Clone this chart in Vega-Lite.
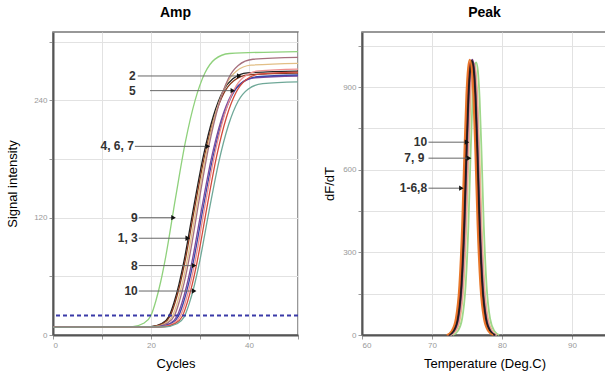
{
  "$schema": "https://vega.github.io/schema/vega-lite/v6.json",
  "padding": {"left": 5, "top": 5, "right": 0, "bottom": 5},
  "background": "white",
  "spacing": 20,
  "resolve": {"scale": {"color": "independent"}},
  "config": {
    "font": "Liberation Sans",
    "view": {"stroke": "#777", "strokeWidth": 1.5},
    "title": {"fontSize": 14, "fontWeight": "bold", "color": "#000", "offset": 12},
    "axis": {
      "gridColor": "#e2e2e2", "gridWidth": 1,
      "domainColor": "#555", "domainWidth": 2,
      "tickColor": "#999", "tickSize": 4,
      "labelColor": "#999", "labelFontSize": 8, "labelPadding": 2,
      "titleFontSize": 13, "titleFontWeight": "normal", "titleColor": "#000"
    }
  },
  "datasets": {
    "amp": [
      {"c":"c01","x":0,"y":8},{"c":"c01","x":16,"y":8.3},{"c":"c01","x":18.5,"y":12},{"c":"c01","x":20,"y":20},{"c":"c01","x":21,"y":35},{"c":"c01","x":22,"y":55},{"c":"c01","x":23,"y":80},{"c":"c01","x":25,"y":140},{"c":"c01","x":27,"y":197},{"c":"c01","x":29,"y":240},{"c":"c01","x":31,"y":268},{"c":"c01","x":33,"y":282},{"c":"c01","x":36,"y":288},{"c":"c01","x":50,"y":290},
      {"c":"c02","x":0,"y":8},{"c":"c02","x":19.7,"y":8.3},{"c":"c02","x":22.2,"y":11.7},{"c":"c02","x":23.7,"y":19.3},{"c":"c02","x":24.7,"y":33.2},{"c":"c02","x":25.7,"y":51.8},{"c":"c02","x":26.7,"y":74.8},{"c":"c02","x":28.7,"y":130.6},{"c":"c02","x":30.7,"y":183.5},{"c":"c02","x":32.7,"y":223.6},{"c":"c02","x":34.7,"y":249.6},{"c":"c02","x":36.7,"y":262.1},{"c":"c02","x":39.7,"y":268.2},{"c":"c02","x":50,"y":270},
      {"c":"c03","x":0,"y":8},{"c":"c03","x":19.9,"y":8.3},{"c":"c03","x":22.4,"y":11.6},{"c":"c03","x":23.9,"y":19.2},{"c":"c03","x":24.9,"y":33},{"c":"c03","x":25.9,"y":51.4},{"c":"c03","x":26.9,"y":74.3},{"c":"c03","x":28.9,"y":129.7},{"c":"c03","x":30.9,"y":182.2},{"c":"c03","x":32.9,"y":222},{"c":"c03","x":34.9,"y":247.7},{"c":"c03","x":36.9,"y":260.2},{"c":"c03","x":39.9,"y":266.2},{"c":"c03","x":50,"y":268},
      {"c":"c04","x":0,"y":8},{"c":"c04","x":20.4,"y":8.3},{"c":"c04","x":22.9,"y":11.8},{"c":"c04","x":24.4,"y":19.6},{"c":"c04","x":25.4,"y":33.9},{"c":"c04","x":26.4,"y":53.1},{"c":"c04","x":27.4,"y":76.9},{"c":"c04","x":29.4,"y":134.4},{"c":"c04","x":31.4,"y":188.9},{"c":"c04","x":33.4,"y":230.2},{"c":"c04","x":35.4,"y":256.9},{"c":"c04","x":37.4,"y":269.9},{"c":"c04","x":40.4,"y":276.1},{"c":"c04","x":50,"y":278},
      {"c":"c05","x":0,"y":8},{"c":"c05","x":20.8,"y":8.3},{"c":"c05","x":23.3,"y":11.9},{"c":"c05","x":24.8,"y":19.9},{"c":"c05","x":25.8,"y":34.5},{"c":"c05","x":26.8,"y":54.1},{"c":"c05","x":27.8,"y":78.4},{"c":"c05","x":29.8,"y":137.2},{"c":"c05","x":31.8,"y":192.9},{"c":"c05","x":33.8,"y":235.1},{"c":"c05","x":35.8,"y":262.5},{"c":"c05","x":37.8,"y":275.7},{"c":"c05","x":40.8,"y":282.1},{"c":"c05","x":50,"y":284},
      {"c":"c06","x":0,"y":8},{"c":"c06","x":21.3,"y":8.3},{"c":"c06","x":23.8,"y":11.6},{"c":"c06","x":25.3,"y":19.1},{"c":"c06","x":26.3,"y":32.7},{"c":"c06","x":27.3,"y":50.9},{"c":"c06","x":28.3,"y":73.5},{"c":"c06","x":30.3,"y":128.3},{"c":"c06","x":32.3,"y":180.2},{"c":"c06","x":34.3,"y":219.5},{"c":"c06","x":36.3,"y":245},{"c":"c06","x":38.3,"y":257.3},{"c":"c06","x":41.3,"y":263.2},{"c":"c06","x":50,"y":265},
      {"c":"c07","x":0,"y":8},{"c":"c07","x":21.6,"y":8.3},{"c":"c07","x":24.1,"y":11.6},{"c":"c07","x":25.6,"y":19.1},{"c":"c07","x":26.6,"y":32.8},{"c":"c07","x":27.6,"y":51.1},{"c":"c07","x":28.6,"y":73.8},{"c":"c07","x":30.6,"y":128.7},{"c":"c07","x":32.6,"y":180.9},{"c":"c07","x":34.6,"y":220.3},{"c":"c07","x":36.6,"y":245.9},{"c":"c07","x":38.6,"y":258.3},{"c":"c07","x":41.6,"y":264.2},{"c":"c07","x":50,"y":266},
      {"c":"c08","x":0,"y":8},{"c":"c08","x":22,"y":8.3},{"c":"c08","x":24.5,"y":11.7},{"c":"c08","x":26,"y":19.4},{"c":"c08","x":27,"y":33.3},{"c":"c08","x":28,"y":52.1},{"c":"c08","x":29,"y":75.3},{"c":"c08","x":31,"y":131.6},{"c":"c08","x":33,"y":184.9},{"c":"c08","x":35,"y":225.3},{"c":"c08","x":37,"y":251.4},{"c":"c08","x":39,"y":264.1},{"c":"c08","x":42,"y":270.2},{"c":"c08","x":50,"y":272},
      {"c":"c09","x":0,"y":8},{"c":"c09","x":22.4,"y":8.3},{"c":"c09","x":24.9,"y":11.7},{"c":"c09","x":26.4,"y":19.2},{"c":"c09","x":27.4,"y":33.1},{"c":"c09","x":28.4,"y":51.6},{"c":"c09","x":29.4,"y":74.6},{"c":"c09","x":31.4,"y":130.1},{"c":"c09","x":33.4,"y":182.9},{"c":"c09","x":35.4,"y":222.8},{"c":"c09","x":37.4,"y":248.6},{"c":"c09","x":39.4,"y":261.2},{"c":"c09","x":42.4,"y":267.2},{"c":"c09","x":50,"y":269},
      {"c":"c10","x":0,"y":8},{"c":"c10","x":22.8,"y":8.3},{"c":"c10","x":25.3,"y":11.5},{"c":"c10","x":26.8,"y":18.8},{"c":"c10","x":27.8,"y":32.1},{"c":"c10","x":28.8,"y":49.9},{"c":"c10","x":29.8,"y":72},{"c":"c10","x":31.8,"y":125.5},{"c":"c10","x":33.8,"y":176.2},{"c":"c10","x":35.8,"y":214.6},{"c":"c10","x":37.8,"y":239.4},{"c":"c10","x":39.8,"y":251.5},{"c":"c10","x":42.8,"y":257.2},{"c":"c10","x":50,"y":259}
    ],
    "ampAnno": [
      {"label":"2","xt":16.9,"x0":17.3,"x1":38.0,"y":265},
      {"label":"5","xt":16.9,"x0":19.8,"x1":36.7,"y":250},
      {"label":"4, 6, 7","xt":16.5,"x0":16.7,"x1":31.6,"y":193},
      {"label":"9","xt":17.3,"x0":17.5,"x1":24.6,"y":120},
      {"label":"1, 3","xt":17.3,"x0":17.5,"x1":27.5,"y":99},
      {"label":"8","xt":17.3,"x0":17.5,"x1":28.8,"y":71},
      {"label":"10","xt":17.3,"x0":17.5,"x1":28.8,"y":45}
    ],
    "peak": [
      {"c":"p1","x":73.0,"y":0},{"c":"p1","x":73.7,"y":15},{"c":"p1","x":74.3,"y":59},{"c":"p1","x":74.8,"y":178},{"c":"p1","x":75.2,"y":396},{"c":"p1","x":75.5,"y":644},{"c":"p1","x":75.8,"y":861},{"c":"p1","x":76.05,"y":960},{"c":"p1","x":76.3,"y":990},{"c":"p1","x":76.55,"y":960},{"c":"p1","x":76.8,"y":861},{"c":"p1","x":77.1,"y":644},{"c":"p1","x":77.4,"y":396},{"c":"p1","x":77.8,"y":178},{"c":"p1","x":78.3,"y":59},{"c":"p1","x":78.9,"y":15},{"c":"p1","x":79.6,"y":0},
      {"c":"p2","x":72.7,"y":0},{"c":"p2","x":73.4,"y":15},{"c":"p2","x":74.0,"y":59},{"c":"p2","x":74.5,"y":177},{"c":"p2","x":74.9,"y":394},{"c":"p2","x":75.2,"y":640},{"c":"p2","x":75.5,"y":857},{"c":"p2","x":75.75,"y":955},{"c":"p2","x":76.0,"y":985},{"c":"p2","x":76.25,"y":955},{"c":"p2","x":76.5,"y":857},{"c":"p2","x":76.8,"y":640},{"c":"p2","x":77.1,"y":394},{"c":"p2","x":77.5,"y":177},{"c":"p2","x":78.0,"y":59},{"c":"p2","x":78.6,"y":15},{"c":"p2","x":79.3,"y":0},
      {"c":"p3","x":72.6,"y":0},{"c":"p3","x":73.3,"y":15},{"c":"p3","x":73.9,"y":59},{"c":"p3","x":74.4,"y":178},{"c":"p3","x":74.8,"y":396},{"c":"p3","x":75.1,"y":644},{"c":"p3","x":75.4,"y":861},{"c":"p3","x":75.65,"y":960},{"c":"p3","x":75.9,"y":990},{"c":"p3","x":76.15,"y":960},{"c":"p3","x":76.4,"y":861},{"c":"p3","x":76.7,"y":644},{"c":"p3","x":77.0,"y":396},{"c":"p3","x":77.4,"y":178},{"c":"p3","x":77.9,"y":59},{"c":"p3","x":78.5,"y":15},{"c":"p3","x":79.2,"y":0},
      {"c":"p4","x":72.45,"y":0},{"c":"p4","x":73.15,"y":15},{"c":"p4","x":73.75,"y":60},{"c":"p4","x":74.25,"y":180},{"c":"p4","x":74.65,"y":400},{"c":"p4","x":74.95,"y":650},{"c":"p4","x":75.25,"y":870},{"c":"p4","x":75.5,"y":970},{"c":"p4","x":75.75,"y":1000},{"c":"p4","x":76.0,"y":970},{"c":"p4","x":76.25,"y":870},{"c":"p4","x":76.55,"y":650},{"c":"p4","x":76.85,"y":400},{"c":"p4","x":77.25,"y":180},{"c":"p4","x":77.75,"y":60},{"c":"p4","x":78.35,"y":15},{"c":"p4","x":79.05,"y":0},
      {"c":"p5","x":72.25,"y":0},{"c":"p5","x":72.95,"y":15},{"c":"p5","x":73.55,"y":60},{"c":"p5","x":74.05,"y":179},{"c":"p5","x":74.45,"y":398},{"c":"p5","x":74.75,"y":647},{"c":"p5","x":75.05,"y":866},{"c":"p5","x":75.3,"y":965},{"c":"p5","x":75.55,"y":995},{"c":"p5","x":75.8,"y":965},{"c":"p5","x":76.05,"y":866},{"c":"p5","x":76.35,"y":647},{"c":"p5","x":76.65,"y":398},{"c":"p5","x":77.05,"y":179},{"c":"p5","x":77.55,"y":60},{"c":"p5","x":78.15,"y":15},{"c":"p5","x":78.85,"y":0},
      {"c":"p6","x":72.4,"y":0},{"c":"p6","x":73.1,"y":15},{"c":"p6","x":73.7,"y":60},{"c":"p6","x":74.2,"y":179},{"c":"p6","x":74.6,"y":398},{"c":"p6","x":74.9,"y":647},{"c":"p6","x":75.2,"y":866},{"c":"p6","x":75.45,"y":965},{"c":"p6","x":75.7,"y":995},{"c":"p6","x":75.95,"y":965},{"c":"p6","x":76.2,"y":866},{"c":"p6","x":76.5,"y":647},{"c":"p6","x":76.8,"y":398},{"c":"p6","x":77.2,"y":179},{"c":"p6","x":77.7,"y":60},{"c":"p6","x":78.3,"y":15},{"c":"p6","x":79.0,"y":0},
      {"c":"p7","x":72.1,"y":0},{"c":"p7","x":72.8,"y":15},{"c":"p7","x":73.4,"y":60},{"c":"p7","x":73.9,"y":180},{"c":"p7","x":74.3,"y":400},{"c":"p7","x":74.6,"y":650},{"c":"p7","x":74.9,"y":870},{"c":"p7","x":75.15,"y":970},{"c":"p7","x":75.4,"y":1000},{"c":"p7","x":75.65,"y":970},{"c":"p7","x":75.9,"y":870},{"c":"p7","x":76.2,"y":650},{"c":"p7","x":76.5,"y":400},{"c":"p7","x":76.9,"y":180},{"c":"p7","x":77.4,"y":60},{"c":"p7","x":78.0,"y":15},{"c":"p7","x":78.7,"y":0}
    ],
    "peakAnno": [
      {"label":"10","xt":69.3,"x0":69.5,"x1":75.0,"y":700},
      {"label":"7, 9","xt":68.9,"x0":69.5,"x1":75.3,"y":642},
      {"label":"1-6,8","xt":69.3,"x0":69.5,"x1":74.2,"y":533}
    ]
  },
  "hconcat": [
    {
      "title": "Amp",
      "width": 245,
      "height": 303,
      "layer": [
        {
          "data": {"name": "amp"},
          "mark": {"type": "line", "interpolate": "monotone", "strokeWidth": 1.3},
          "encoding": {
            "x": {"field": "x", "type": "quantitative", "scale": {"domain": [0, 50], "nice": false},
              "axis": {"title": "Cycles", "values": [0,10,20,30,40,50], "labelExpr": "datum.value % 20 === 0 ? datum.label : ''", "titlePadding": 8}},
            "y": {"field": "y", "type": "quantitative", "scale": {"domain": [0, 310], "nice": false},
              "axis": {"title": "Signal intensity", "values": [0,60,120,180,240,300], "labelExpr": "datum.value % 120 === 0 ? datum.label : ''", "titlePadding": 14}},
            "color": {"field": "c", "type": "nominal", "legend": null,
              "scale": {"domain": ["c01","c02","c03","c04","c05","c06","c07","c08","c09","c10"],
                "range": ["#8fd17c","#222222","#8b3a1e","#e2bf86","#a6707e","#7d4a9c","#3c46a8","#ee9090","#d24a3c","#6fa898"]}}
          }
        },
        {
          "data": {"values": [{"t": 20}]},
          "mark": {"type": "rule", "color": "#3a3aa8", "strokeDash": [4, 3], "strokeWidth": 2},
          "encoding": {"y": {"field": "t", "type": "quantitative"}}
        },
        {
          "data": {"name": "ampAnno"},
          "mark": {"type": "rule", "color": "#666", "strokeWidth": 1},
          "encoding": {
            "x": {"field": "x0", "type": "quantitative"},
            "x2": {"field": "x1"},
            "y": {"field": "y", "type": "quantitative"}
          }
        },
        {
          "data": {"name": "ampAnno"},
          "mark": {"type": "point", "shape": "triangle-right", "filled": true, "color": "#111", "size": 28, "opacity": 1},
          "encoding": {
            "x": {"field": "x1", "type": "quantitative"},
            "y": {"field": "y", "type": "quantitative"}
          }
        },
        {
          "data": {"name": "ampAnno"},
          "mark": {"type": "text", "align": "right", "baseline": "middle", "fontSize": 12, "fontWeight": "bold", "color": "#333"},
          "encoding": {
            "x": {"field": "xt", "type": "quantitative"},
            "y": {"field": "y", "type": "quantitative"},
            "text": {"field": "label"}
          }
        }
      ]
    },
    {
      "title": "Peak",
      "width": 245,
      "height": 303,
      "layer": [
        {
          "data": {"name": "peak"},
          "mark": {"type": "line", "interpolate": "monotone", "strokeWidth": 1.8},
          "encoding": {
            "x": {"field": "x", "type": "quantitative", "scale": {"domain": [60, 95], "nice": false},
              "axis": {"title": "Temperature (Deg.C)", "values": [60,65,70,75,80,85,90,95], "labelExpr": "datum.value % 10 === 0 ? datum.label : ''", "titlePadding": 8}},
            "y": {"field": "y", "type": "quantitative", "scale": {"domain": [0, 1100], "nice": false},
              "axis": {"title": "dF/dT", "values": [0,150,300,450,600,750,900,1050], "labelExpr": "datum.value % 300 === 0 ? datum.label : ''", "titlePadding": 6}},
            "color": {"field": "c", "type": "nominal", "legend": null,
              "scale": {"domain": ["p1","p2","p3","p4","p5","p6","p7"],
                "range": ["#9fd88a","#e8c28a","#e89a9a","#6b3a78","#d23c2c","#1e1e1e","#e8782a"]}}
          }
        },
        {
          "data": {"name": "peakAnno"},
          "mark": {"type": "rule", "color": "#666", "strokeWidth": 1},
          "encoding": {
            "x": {"field": "x0", "type": "quantitative"},
            "x2": {"field": "x1"},
            "y": {"field": "y", "type": "quantitative"}
          }
        },
        {
          "data": {"name": "peakAnno"},
          "mark": {"type": "point", "shape": "triangle-right", "filled": true, "color": "#111", "size": 28, "opacity": 1},
          "encoding": {
            "x": {"field": "x1", "type": "quantitative"},
            "y": {"field": "y", "type": "quantitative"}
          }
        },
        {
          "data": {"name": "peakAnno"},
          "mark": {"type": "text", "align": "right", "baseline": "middle", "fontSize": 12, "fontWeight": "bold", "color": "#333"},
          "encoding": {
            "x": {"field": "xt", "type": "quantitative"},
            "y": {"field": "y", "type": "quantitative"},
            "text": {"field": "label"}
          }
        }
      ]
    }
  ]
}
